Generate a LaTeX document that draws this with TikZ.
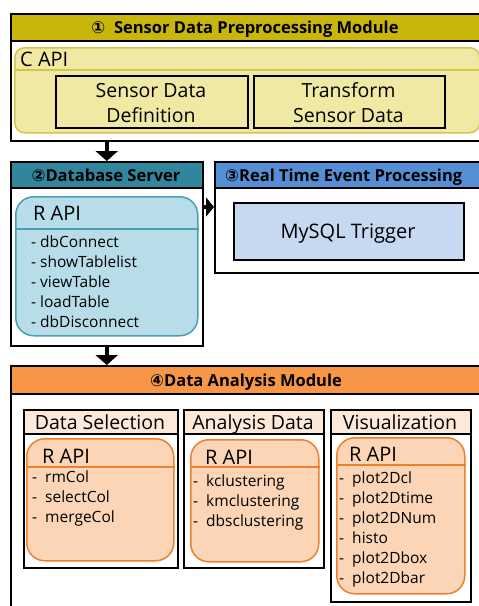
\documentclass[tikz,border=0pt]{standalone}
\usepackage{fontspec}
\setmainfont{Open Sans}
\newfontfamily\sym{DejaVu Sans}
\usetikzlibrary{arrows.meta,calc}
\definecolor{hdA}{HTML}{C8B70A}
\definecolor{capiF}{HTML}{EFE9A3}
\definecolor{capiD}{HTML}{D4C64A}
\definecolor{hdB}{HTML}{31859C}
\definecolor{rapiF}{HTML}{B7DDE8}
\definecolor{rapiD}{HTML}{4A9DB5}
\definecolor{hdC}{HTML}{558ED5}
\definecolor{myF}{HTML}{C6D9F1}
\definecolor{hdD}{HTML}{F79646}
\definecolor{subH}{HTML}{FDE9D9}
\definecolor{orF}{HTML}{FBD5B5}
\definecolor{orD}{HTML}{EE7F2D}
\tikzset{
  frame/.style={draw=black, line width=1.5pt},
  hdtext/.style={font=\fontsize{16.5}{19}\selectfont\bfseries, inner sep=0pt, anchor=base},
  lbl/.style={font=\fontsize{20}{23}\selectfont, inner sep=0pt},
  sublbl/.style={font=\fontsize{19.5}{22}\selectfont, inner sep=0pt, anchor=base},
  item/.style={font=\fontsize{15.5}{18}\selectfont, inner sep=0pt, anchor=base west},
  fatarrow/.style={line width=4pt, -{Triangle[width=22pt,length=10pt]}},
  sidearrow/.style={line width=4pt, -{Triangle[width=19pt,length=8pt]}},
  boxtext/.style={font=\fontsize{19.5}{22}\selectfont, inner sep=0pt, anchor=base},
}
\begin{document}
\begin{tikzpicture}[x=1pt,y=-1pt]
\useasboundingbox (0,0) rectangle (479,606);
\clip (0,0) rectangle (479,606);
\fill[white] (0,0) rectangle (479,606);

% ---------- Module 1 ----------
\node[frame, fill=white, anchor=north west, minimum width=475pt, minimum height=127pt, inner sep=0pt] (b1) at (10,13) {};
\node[frame, fill=hdA, anchor=north west, minimum width=475pt, minimum height=27pt, inner sep=0pt] (h1) at (10,13) {};
\node[hdtext] (t1) at (245,33) {{\sym ①}\ \ Sensor Data Preprocessing Module};
\node[draw=capiD, fill=capiF, line width=1.5pt, rounded corners=10pt, anchor=north west, minimum width=465pt, minimum height=85pt, inner sep=0pt] (capi) at (14,47) {};
\draw[capiD, line width=1.5pt] (capi.west |- 0,70) -- (capi.east |- 0,70);
\node[lbl, anchor=base west] (capit) at (20,66) {C API};
\node[frame, anchor=north west, minimum width=192pt, minimum height=52pt, inner sep=0pt] (sdd) at (55,75) {};
\node[boxtext] (sdd1) at (151,97) {Sensor Data};
\node[boxtext] (sdd2) at (151,122) {Definition};
\node[frame, anchor=north west, minimum width=191pt, minimum height=52pt, inner sep=0pt] (tsd) at (253,75) {};
\node[boxtext] (tsd1) at (348.5,97) {Transform};
\node[boxtext] (tsd2) at (348.5,122) {Sensor Data};

% ---------- Module 2 ----------
\node[frame, fill=white, anchor=north west, minimum width=192pt, minimum height=184pt, inner sep=0pt] (b2) at (10,161) {};
\node[frame, fill=hdB, anchor=north west, minimum width=192pt, minimum height=26pt, inner sep=0pt] (h2) at (10,161) {};
\node[hdtext] (t2) at (106,181) {{\sym ②}Database Server};
\node[draw=rapiD, fill=rapiF, line width=1.5pt, rounded corners=18pt, anchor=north west, minimum width=182pt, minimum height=139pt, inner sep=0pt] (rapi2) at (15,196) {};
\draw[rapiD, line width=1.5pt] (rapi2.west |- 0,229) -- (rapi2.east |- 0,229);
\node[lbl, anchor=base west] (rapi2t) at (33,220) {R API};
\foreach \t [count=\i] in {dbConnect,showTablelist,viewTable,loadTable,dbDisconnect}
  \node[item] (b2i\i) at (31,{247+20*(\i-1)}) {-\ \t};

% ---------- Module 3 ----------
\node[frame, fill=white, anchor=north west, minimum width=271pt, minimum height=111pt, inner sep=0pt] (b3) at (214,161) {};
\node[frame, fill=hdC, anchor=north west, minimum width=271pt, minimum height=26pt, inner sep=0pt] (h3) at (214,161) {};
\node[hdtext, anchor=base west] (t3) at (225,181) {{\sym ③}Real Time Event Processing};
\node[frame, fill=myF, anchor=north west, minimum width=230pt, minimum height=57pt, inner sep=0pt] (mysql) at (233,202) {};
\node[lbl, anchor=base] (mysqlt) at (348,238) {MySQL Trigger};

% ---------- Module 4 ----------
\node[frame, fill=white, anchor=north west, minimum width=475pt, minimum height=250pt, inner sep=0pt] (b4) at (10,365) {};
\node[frame, fill=hdD, anchor=north west, minimum width=475pt, minimum height=28pt, inner sep=0pt] (h4) at (10,365) {};
\node[hdtext] (t4) at (246,386) {{\sym ④}Data Analysis Module};

% sub boxes
\node[frame, anchor=north west, minimum width=154pt, minimum height=158pt, inner sep=0pt] (ds) at (23,409) {};
\node[frame, fill=subH, anchor=north west, minimum width=154pt, minimum height=24pt, inner sep=0pt] (dsh) at (23,409) {};
\node[sublbl] (dsht) at (100,429) {Data Selection};
\node[frame, anchor=north west, minimum width=140pt, minimum height=158pt, inner sep=0pt] (ad) at (183,409) {};
\node[frame, fill=subH, anchor=north west, minimum width=140pt, minimum height=24pt, inner sep=0pt] (adh) at (183,409) {};
\node[sublbl] (adht) at (253,429) {Analysis Data};
\node[frame, anchor=north west, minimum width=140pt, minimum height=192pt, inner sep=0pt] (vis) at (330,409) {};
\node[frame, fill=subH, anchor=north west, minimum width=140pt, minimum height=24pt, inner sep=0pt] (vish) at (330,409) {};
\node[sublbl] (visht) at (400,429) {Visualization};

% orange R API boxes
\node[draw=orD, fill=orF, line width=1.5pt, rounded corners=18pt, anchor=north west, minimum width=147pt, minimum height=122pt, inner sep=0pt] (ods) at (26,438) {};
\draw[orD, line width=1.5pt] (ods.west |- 0,467) -- (ods.east |- 0,467);
\node[lbl, anchor=base west] (odst) at (42,463) {R API};
\foreach \t [count=\i] in {rmCol,selectCol,mergeCol}
  \node[item] (dsi\i) at (32,{482+20*(\i-1)}) {-\ \ \t};

\node[draw=orD, fill=orF, line width=1.5pt, rounded corners=18pt, anchor=north west, minimum width=128pt, minimum height=122pt, inner sep=0pt] (oad) at (190,439) {};
\draw[orD, line width=1.5pt] (oad.west |- 0,467) -- (oad.east |- 0,467);
\node[lbl, anchor=base west] (oadt) at (205,464) {R API};
\foreach \t [count=\i] in {kclustering,kmclustering,dbsclustering}
  \node[item] (adi\i) at (193,{486+20*(\i-1)}) {-\ \ \t};

\node[draw=orD, fill=orF, line width=1.5pt, rounded corners=18pt, anchor=north west, minimum width=128pt, minimum height=156pt, inner sep=0pt] (ovis) at (336,437) {};
\draw[orD, line width=1.5pt] (ovis.west |- 0,465) -- (ovis.east |- 0,465);
\node[lbl, anchor=base west] (ovist) at (349,461) {R API};
\foreach \t [count=\i] in {plot2Dcl,plot2Dtime,plot2DNum,histo,plot2Dbox,plot2Dbar}
  \node[item] (visi\i) at (339,{483+20*(\i-1)}) {-\ \ \t};

% ---------- arrows ----------
\coordinate (a23) at (0,207);
\draw[fatarrow] (b2.north |- b1.south) -- (b2.north);
\draw[fatarrow] (b2.south) -- (b2.south |- b4.north);
\draw[sidearrow] (b2.east |- a23) -- (b3.west |- a23);
\end{tikzpicture}
\end{document}
